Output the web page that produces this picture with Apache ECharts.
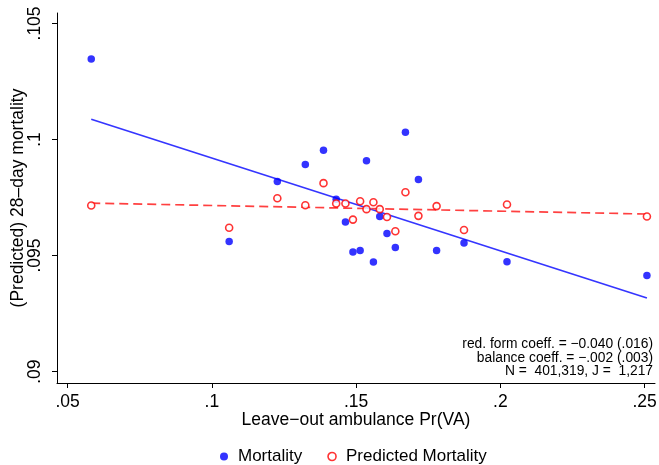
<!DOCTYPE html>
<html>
<head>
<meta charset="utf-8">
<script src="https://cdn.jsdelivr.net/npm/echarts@6/dist/echarts.min.js"></script>
<style>html,body{margin:0;padding:0;background:#fff}#c{width:659px;height:465px}</style>
</head>
<body>
<div id="c"></div>
<script>
// Bin means (x = leave-out ambulance Pr(VA))
var binX = [0.0582, 0.1060, 0.1227, 0.1324, 0.1387, 0.1431, 0.1463, 0.1489, 0.1514, 0.1536,
            0.1560, 0.1582, 0.1607, 0.1636, 0.1671, 0.1716, 0.1779, 0.1874, 0.2023, 0.2508];
var mortality = [0.10347, 0.09561, 0.09819, 0.09892, 0.09954, 0.09743, 0.09645, 0.09515, 0.09522, 0.09908,
                 0.09472, 0.09668, 0.09595, 0.09535, 0.10031, 0.09828, 0.09522, 0.09554, 0.09473, 0.09414];
var predicted = [0.09716, 0.09620, 0.09747, 0.09717, 0.09812, 0.09724, 0.09724, 0.09655, 0.09734, 0.09700,
                 0.09730, 0.09700, 0.09666, 0.09605, 0.09773, 0.09671, 0.09713, 0.09610, 0.09720, 0.09668];
// Linear fit endpoints
var fitX = [0.0582, 0.2508];
var mortalityFit = [0.10087, 0.09317];
var predictedFit = [0.09726, 0.09679];
// Tick values
var xTicks = [0.05, 0.1, 0.15, 0.2, 0.25];
var yTicks = [0.09, 0.095, 0.1, 0.105];
var notes = ['red. form coeff. = \u22120.040 (.016)', 'balance coeff. = \u2212.002 (.003)', 'N =  401,319, J =  1,217'];

function pairs(xs, ys) { return xs.map(function (x, i) { return [x, ys[i]]; }); }
function stripZero(v) { return String(+v.toFixed(4)).replace(/^0\./, '.'); }

var FONT = '"Liberation Sans", Arial, Helvetica, sans-serif';
var FS = 17.5;
var chart = echarts.init(document.getElementById('c'), null, { renderer: 'canvas' });
chart.setOption({
  animation: false,
  backgroundColor: '#fff',
  textStyle: { fontFamily: FONT },
  grid: { left: 57, right: 4, top: 13, bottom: 82, outerBoundsMode: 'none' },
  xAxis: {
    type: 'value', min: 0.04633, max: 0.2536,
    name: 'Leave\u2212out ambulance Pr(VA)', nameLocation: 'middle', nameGap: 28, nameMoveOverlap: false,
    nameTextStyle: { fontSize: FS, color: '#000', fontFamily: FONT },
    axisLine: { show: true, onZero: false, lineStyle: { color: '#000', width: 1 } },
    axisTick: { show: true, length: 5, customValues: xTicks, lineStyle: { color: '#000' } },
    axisLabel: { customValues: xTicks, formatter: stripZero, fontSize: FS, color: '#000', margin: 10, fontFamily: FONT },
    splitLine: { show: false }
  },
  yAxis: {
    type: 'value', min: 0.08951, max: 0.10545,
    name: '(Predicted) 28\u2013day mortality', nameLocation: 'middle', nameGap: 30, nameRotate: 90, nameMoveOverlap: false,
    nameTextStyle: { fontSize: FS, color: '#000', fontFamily: FONT },
    axisLine: { show: true, onZero: false, lineStyle: { color: '#000', width: 1 } },
    axisTick: { show: true, length: 5, customValues: yTicks, lineStyle: { color: '#000' } },
    axisLabel: { customValues: yTicks, formatter: stripZero, rotate: 90, fontSize: FS, color: '#000', margin: 13, fontFamily: FONT },
    splitLine: { show: false }
  },
  legend: {
    bottom: -5, left: 215, itemGap: 25, itemWidth: 8, itemHeight: 8,
    textStyle: { fontSize: 17, color: '#000', fontFamily: FONT, padding: [0, 0, 0, 5] },
    data: [
      { name: 'Mortality', icon: 'circle' },
      { name: 'Predicted Mortality', icon: 'circle', itemStyle: { color: '#fff', borderColor: '#ff0000', borderWidth: 1.6 } }
    ]
  },
  series: [
    { name: 'Mortality', type: 'scatter', data: pairs(binX, mortality), symbol: 'circle', symbolSize: 7.5,
      itemStyle: { color: '#0000ff' }, z: 3 },
    { name: 'Predicted Mortality', type: 'scatter', data: pairs(binX, predicted), symbol: 'circle', symbolSize: 7,
      itemStyle: { color: '#fff', borderColor: '#ff0000', borderWidth: 1.6 }, z: 3 },
    { name: 'mfit', type: 'line', data: pairs(fitX, mortalityFit), symbol: 'none',
      lineStyle: { color: '#3535ff', width: 1.7 }, z: 2, silent: true },
    { name: 'pfit', type: 'line', data: pairs(fitX, predictedFit), symbol: 'none',
      lineStyle: { color: '#ff4040', width: 1.7, type: [9, 5] }, z: 2, silent: true }
  ],
  graphic: notes.map(function (t, i) {
    return { type: 'text', x: 653, y: 344.3 + i * 13.4,
      style: { text: t, fill: '#000', font: '13.8px ' + FONT, textAlign: 'right', textVerticalAlign: 'middle', verticalAlign: 'middle' } };
  })
});
</script>
</body>
</html>
